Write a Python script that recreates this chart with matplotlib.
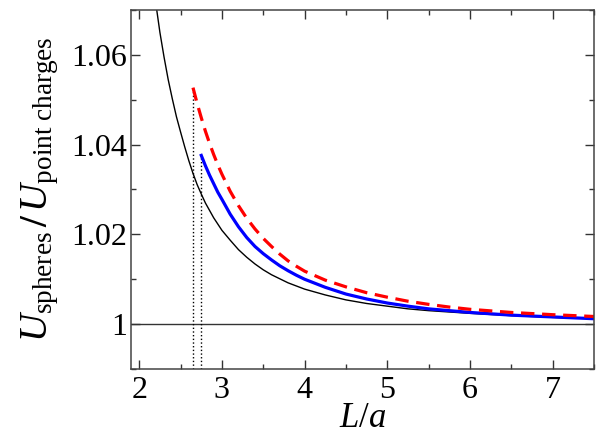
import matplotlib
matplotlib.use("Agg")
import matplotlib.pyplot as plt
from matplotlib.ticker import MultipleLocator

plt.rcParams['font.family'] = 'Liberation Serif'
plt.rcParams['mathtext.fontset'] = 'custom'
plt.rcParams['mathtext.rm'] = 'Liberation Serif'
plt.rcParams['mathtext.it'] = 'Liberation Serif:italic'
plt.rcParams['mathtext.bf'] = 'Liberation Serif:bold'

# point charges reference curve (thin black)
black_x = [2.20, 2.25, 2.30, 2.35, 2.40, 2.45, 2.50, 2.55, 2.60, 2.65, 2.70,
           2.75, 2.80, 2.90, 3.00, 3.10, 3.20, 3.30, 3.40, 3.50, 3.60, 3.70,
           3.80, 3.90, 4.00, 4.25, 4.50, 4.75, 5.00, 5.25, 5.50, 5.75, 6.00,
           6.50, 7.00, 7.50]
black_y = [1.0715, 1.0650, 1.0595, 1.0545, 1.0502, 1.0462, 1.0428, 1.0395,
           1.0364, 1.0336, 1.0311, 1.0290, 1.0270, 1.0237, 1.0209, 1.0187,
           1.0166, 1.0149, 1.0134, 1.0121, 1.0110, 1.0101, 1.0092, 1.0085,
           1.0078, 1.0065, 1.0054, 1.0046, 1.0040, 1.0034, 1.0030, 1.0027,
           1.0024, 1.0019, 1.0015, 1.0012]

# blue solid
blue_x = [2.75, 2.80, 2.85, 2.90, 2.95, 3.00, 3.10, 3.20, 3.30, 3.40, 3.50,
          3.60, 3.70, 3.80, 3.90, 4.00, 4.25, 4.50, 4.75, 5.00, 5.25, 5.50,
          5.75, 6.00, 6.50, 7.00, 7.50]
blue_y = [1.0376, 1.0353, 1.0332, 1.0313, 1.0294, 1.0278, 1.0245, 1.0217,
          1.0193, 1.0173, 1.0157, 1.0143, 1.0130, 1.0119, 1.0109, 1.0100,
          1.0082, 1.0067, 1.0056, 1.0047, 1.0040, 1.0034, 1.0030, 1.0026,
          1.0020, 1.0016, 1.0012]

# red dashed
red_x = [2.65, 2.70, 2.75, 2.80, 2.85, 2.90, 2.95, 3.00, 3.10, 3.20, 3.30,
         3.40, 3.50, 3.60, 3.70, 3.80, 3.90, 4.00, 4.25, 4.50, 4.75, 5.00,
         5.25, 5.50, 5.75, 6.00, 6.50, 7.00, 7.50]
red_y = [1.0527, 1.0492, 1.0460, 1.0430, 1.0403, 1.0378, 1.0355, 1.0334,
         1.0296, 1.0264, 1.0236, 1.0212, 1.0191, 1.0173, 1.0156, 1.0141,
         1.0129, 1.0118, 1.0098, 1.0083, 1.0070, 1.0060, 1.0051, 1.0044,
         1.0038, 1.0033, 1.0026, 1.0021, 1.0017]

xticks = [2, 3, 4, 5, 6, 7]
yticks = [1.00, 1.02, 1.04, 1.06]
ytick_labels = ['1', '1.02', '1.04', '1.06']

fig = plt.figure(figsize=(6.05, 4.41), dpi=100)
ax = fig.add_axes([0.2165, 0.1633, 0.7653, 0.814])

ax.axhline(1.0, color='#333333', lw=1.0)
ax.vlines(red_x[0], 0.99, red_y[0], colors='black', linestyles=':', lw=1.0)
ax.vlines(blue_x[0], 0.99, blue_y[0], colors='black', linestyles=':', lw=1.0)

ax.plot(black_x, black_y, color='black', lw=1.0)
ax.plot(blue_x, blue_y, color='blue', lw=2.3)
ax.plot(red_x, red_y, color='red', lw=2.3, dashes=(4.2, 2.4))

ax.set_xlim(1.9, 7.5)
ax.set_ylim(0.99, 1.07)
ax.set_xticks(xticks)
ax.set_yticks(yticks)
ax.set_yticklabels(ytick_labels)
ax.xaxis.set_minor_locator(MultipleLocator(0.5))
ax.yaxis.set_minor_locator(MultipleLocator(0.01))
ax.tick_params(which='both', direction='in', top=True, right=True,
               width=1.0, color='#333333')
ax.tick_params(which='major', length=6.5, labelsize=23, pad=5)
ax.tick_params(which='minor', length=3.6)
ax.tick_params(axis='y', pad=3)

for s in ax.spines.values():
    s.set_color('#444444')
    s.set_linewidth(1.1)

ax.set_xlabel(r'$L/a$', fontsize=25, labelpad=-2)
ax.set_ylabel(r'$U_{\mathrm{spheres}}\,\mathbf{/}\,U_{\mathrm{point\ charges}}$',
              fontsize=28)
ax.yaxis.set_label_coords(-0.152, 0.5)

fig.savefig('out.png', dpi=100)
